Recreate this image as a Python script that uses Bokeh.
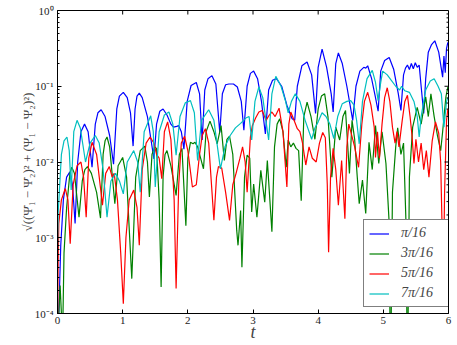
from bokeh.plotting import figure
from bokeh.models import FixedTicker, Legend, LegendItem
from bokeh.embed import file_html
from bokeh.resources import INLINE
import numpy as np

# ---- data (time t, and log10 of the difference norm) ----
t_pi16 = [0.00, 0.02, 0.05, 0.09, 0.14, 0.19, 0.23, 0.27, 0.31, 0.36, 0.415, 0.47, 0.53, 0.58, 0.62, 0.67,
          0.73, 0.80, 0.86, 0.91, 0.95, 1.01, 1.07, 1.12, 1.16, 1.19, 1.22, 1.255, 1.30, 1.38, 1.48, 1.52,
          1.57, 1.62, 1.68, 1.74, 1.78, 1.83, 1.86, 1.90, 1.94, 1.99, 2.05, 2.13, 2.18, 2.22, 2.26, 2.31,
          2.37, 2.43, 2.49, 2.53, 2.58, 2.63, 2.70, 2.76, 2.82, 2.86, 2.91, 2.96, 3.01, 3.07, 3.13, 3.19,
          3.24, 3.30, 3.36, 3.44, 3.52, 3.60, 3.64, 3.68, 3.75, 3.83, 3.90, 3.96, 4.00, 4.06, 4.13, 4.20,
          4.23, 4.27, 4.31, 4.37, 4.44, 4.50, 4.53, 4.58, 4.64, 4.70, 4.73, 4.76, 4.82, 4.88, 4.92, 4.96,
          5.02, 5.09, 5.16, 5.23, 5.27, 5.31, 5.34, 5.37, 5.40, 5.43, 5.46, 5.49, 5.52, 5.55, 5.58, 5.62,
          5.65, 5.69, 5.74, 5.79, 5.85, 5.91, 5.93, 5.95, 5.97, 5.99]
log_pi16 = [-4.6, -4.0, -3.1, -2.5, -2.2, -2.13, -2.3, -2.81, -2.0, -1.6, -1.50, -1.6, -2.07, -1.5, -1.35, -1.31,
            -1.4, -1.65, -2.03, -1.3, -1.13, -1.08, -1.15, -1.35, -1.79, -1.3, -1.13, -1.09, -1.15, -1.4, -1.96, -1.5,
            -1.33, -1.30, -1.38, -1.5, -1.54, -1.53, -1.52, -1.6, -1.83, -1.2, -0.99, -0.95, -1.1, -1.71, -1.05, -0.9,
            -0.86, -0.97, -1.61, -1.1, -0.98, -0.97, -0.97, -1.01, -1.2, -1.58, -1.0, -0.83, -0.80, -0.9, -1.2, -1.63,
            -1.05, -0.92, -0.90, -1.0, -1.25, -1.43, -1.45, -1.0, -0.73, -0.68, -0.85, -1.36, -0.75, -0.51, -0.75, -1.1,
            -1.34, -0.7, -0.56, -0.7, -1.0, -1.3, -1.45, -1.0, -0.8, -0.75, -0.76, -0.73, -0.9, -1.15, -1.33, -0.8,
            -0.66, -0.62, -0.78, -1.1, -1.32, -0.85, -0.76, -0.72, -0.78, -0.70, -0.77, -0.69, -0.75, -0.72, -1.0, -1.36,
            -0.9, -0.55, -0.45, -0.40, -0.55, -0.88, -0.6, -0.82, -0.5, -0.42]

t_3pi16 = [0.00, 0.02, 0.04, 0.06, 0.075, 0.10, 0.14, 0.19, 0.22, 0.26, 0.33, 0.38, 0.42, 0.46, 0.52, 0.60,
           0.66, 0.70, 0.73, 0.76, 0.80, 0.88, 0.93, 1.00, 1.06, 1.14, 1.20, 1.27, 1.34, 1.38, 1.41, 1.45,
           1.49, 1.52, 1.56, 1.59, 1.62, 1.65, 1.68, 1.74, 1.82, 1.87, 1.91, 1.97, 2.00, 2.04, 2.08, 2.11,
           2.15, 2.24, 2.28, 2.34, 2.40, 2.45, 2.51, 2.56, 2.60, 2.64, 2.69, 2.75, 2.77, 2.81, 2.83, 2.87,
           2.91, 2.95, 2.98, 3.01, 3.06, 3.12, 3.18, 3.22, 3.29, 3.33, 3.37, 3.41, 3.46, 3.51, 3.54, 3.58,
           3.62, 3.66, 3.70, 3.74, 3.78, 3.83, 3.89, 3.95, 4.00, 4.05, 4.10, 4.15, 4.21, 4.27, 4.33, 4.38,
           4.42, 4.48, 4.52, 4.56, 4.60, 4.63, 4.68, 4.73, 4.78, 4.83, 4.88, 4.93, 4.98, 5.04, 5.09, 5.11,
           5.14, 5.19, 5.22, 5.27, 5.31, 5.35, 5.37, 5.40, 5.45, 5.52, 5.58, 5.65, 5.69, 5.73, 5.78, 5.83,
           5.88, 5.91, 5.96, 5.99]
log_3pi16 = [-4.6, -4.0, -3.63, -4.0, -4.5, -3.2, -2.6, -2.15, -2.07, -2.15, -2.73, -2.25, -2.1, -2.06, -2.15, -2.4,
             -2.74, -1.9, -1.72, -1.67, -1.8, -2.55, -2.05, -1.94, -2.2, -3.54, -2.2, -1.85, -1.79, -2.0, -2.46, -1.9,
             -1.80, -1.82, -2.5, -3.65, -2.2, -1.9, -1.85, -2.05, -2.44, -1.9, -1.82, -2.84, -1.95, -1.74, -1.76, -1.74,
             -1.8, -2.09, -1.6, -1.46, -1.6, -1.76, -1.52, -1.98, -1.7, -1.66, -1.9, -2.90, -3.10, -2.64, -3.39, -2.2,
             -1.91, -1.95, -2.66, -2.29, -2.73, -2.11, -2.53, -1.98, -2.92, -1.8, -1.5, -1.43, -1.6, -2.07, -1.71, -1.8,
             -1.75, -1.82, -1.85, -2.51, -1.4, -1.21, -1.4, -1.7, -1.3, -1.13, -1.10, -1.4, -2.20, -1.54, -1.71, -1.4,
             -1.32, -2.15, -1.45, -1.7, -2.2, -2.55, -2.24, -2.68, -1.74, -2.1, -1.52, -2.02, -1.6, -2.02, -2.81, -5.0,
             -2.4, -1.80, -1.55, -1.9, -1.75, -2.86, -5.0, -2.2, -1.54, -1.28, -1.5, -1.14, -1.4, -1.10, -1.4, -1.65,
             -1.85, -1.6, -1.14, -1.01]

t_5pi16 = [0.00, 0.01, 0.02, 0.06, 0.12, 0.16, 0.195, 0.24, 0.30, 0.36, 0.40, 0.44, 0.48, 0.53, 0.60, 0.69,
           0.74, 0.795, 0.84, 0.87, 0.92, 0.97, 1.01, 1.05, 1.10, 1.17, 1.22, 1.255, 1.30, 1.36, 1.42, 1.48,
           1.52, 1.56, 1.60, 1.64, 1.69, 1.74, 1.79, 1.82, 1.86, 1.90, 1.95, 2.00, 2.07, 2.13, 2.18, 2.22,
           2.27, 2.32, 2.40, 2.44, 2.47, 2.52, 2.58, 2.64, 2.69, 2.74, 2.80, 2.84, 2.88, 2.91, 2.96, 2.99,
           3.04, 3.09, 3.14, 3.20, 3.25, 3.29, 3.34, 3.40, 3.46, 3.52, 3.55, 3.58, 3.63, 3.68, 3.72, 3.76,
           3.81, 3.86, 3.91, 3.97, 4.02, 4.07, 4.11, 4.14, 4.16, 4.19, 4.23, 4.27, 4.31, 4.36, 4.41, 4.44,
           4.47, 4.50, 4.56, 4.62, 4.67, 4.71, 4.76, 4.81, 4.86, 4.88, 4.91, 4.94, 4.98, 5.02, 5.06, 5.10,
           5.14, 5.18, 5.21, 5.24, 5.29, 5.33, 5.37, 5.41, 5.44, 5.47, 5.50, 5.54, 5.58, 5.62, 5.66, 5.70,
           5.75, 5.80, 5.85, 5.88, 5.90, 5.92, 5.94, 5.97, 5.99]
log_5pi16 = [-4.2, -3.3, -2.81, -2.5, -2.35, -2.5, -3.08, -2.3, -2.05, -2.00, -2.2, -2.73, -1.95, -1.74, -1.9, -2.57,
             -2.15, -2.06, -2.2, -2.15, -2.5, -3.2, -3.87, -3.0, -2.5, -2.37, -2.6, -3.10, -2.1, -1.75, -1.67, -1.75,
             -1.9, -1.95, -2.22, -1.6, -1.47, -1.7, -2.5, -3.67, -2.3, -1.75, -1.66, -1.85, -2.33, -2.3, -1.9, -1.65,
             -1.56, -1.75, -2.77, -2.2, -2.06, -2.08, -2.4, -2.77, -2.3, -2.15, -1.95, -1.80, -2.0, -2.40, -1.67, -1.52,
             -1.42, -1.34, -1.32, -1.45, -1.38, -1.34, -1.40, -1.29, -1.6, -2.33, -1.5, -1.34, -1.45, -1.56, -1.6, -1.75,
             -2.04, -1.8, -1.95, -2.0, -1.75, -1.61, -1.68, -2.3, -3.19, -2.2, -1.82, -2.1, -2.57, -1.98, -2.75, -1.8,
             -1.50, -1.6, -1.8, -2.07, -1.5, -1.2, -1.08, -1.25, -1.54, -1.94, -1.6, -1.95, -1.5, -1.15, -1.02, -1.2,
             -1.54, -1.75, -1.6, -1.8, -1.45, -1.2, -1.12, -1.4, -1.65, -2.02, -1.7, -2.0, -1.75, -2.1, -1.85, -2.20,
             -1.72, -1.47, -1.62, -2.0, -2.8, -3.69, -2.4, -1.45, -1.3]

t_7pi16 = [0.00, 0.01, 0.06, 0.10, 0.145, 0.18, 0.21, 0.25, 0.30, 0.35, 0.43, 0.50, 0.58, 0.64, 0.70, 0.76,
           0.82, 0.89, 0.95, 1.01, 1.07, 1.17, 1.23, 1.27, 1.33, 1.43, 1.47, 1.50, 1.56, 1.64, 1.71, 1.77,
           1.82, 1.88, 1.96, 2.04, 2.10, 2.15, 2.21, 2.32, 2.40, 2.50, 2.57, 2.65, 2.73, 2.81, 2.89, 2.94,
           2.98, 3.03, 3.09, 3.15, 3.24, 3.29, 3.35, 3.43, 3.50, 3.54, 3.59, 3.65, 3.72, 3.80, 3.90, 3.95,
           4.00, 4.06, 4.12, 4.18, 4.24, 4.30, 4.37, 4.44, 4.50, 4.55, 4.59, 4.63, 4.68, 4.75, 4.83, 4.88,
           4.92, 4.96, 4.99, 5.06, 5.12, 5.19, 5.25, 5.28, 5.33, 5.40, 5.47, 5.52, 5.55, 5.58, 5.65, 5.72,
           5.78, 5.84, 5.89, 5.93, 5.97, 5.99]
log_7pi16 = [-3.2, -2.68, -1.9, -1.72, -1.67, -1.85, -2.37, -1.6, -1.45, -1.55, -2.0, -1.75, -1.65, -1.75, -2.1, -2.73,
             -2.25, -2.15, -2.25, -2.42, -2.0, -1.85, -2.0, -2.40, -1.6, -1.39, -1.6, -2.33, -1.6, -1.38, -1.34, -1.5,
             -1.91, -1.4, -1.22, -1.19, -1.35, -1.98, -1.45, -1.31, -1.45, -2.09, -1.8, -1.65, -1.55, -1.49, -1.42, -1.40,
             -1.71, -1.2, -1.01, -1.15, -1.71, -1.1, -0.87, -1.0, -1.2, -1.35, -1.2, -1.10, -1.2, -1.45, -1.70, -1.55,
             -1.47, -1.35, -1.4, -1.5, -1.69, -1.4, -1.23, -1.2, -1.19, -1.25, -1.45, -1.76, -1.2, -0.9, -0.79, -0.95,
             -1.19, -0.95, -0.80, -0.85, -0.92, -1.0, -1.05, -1.0, -1.06, -1.08, -1.2, -1.4, -1.67, -1.4, -1.05, -0.93,
             -0.90, -1.0, -1.1, -1.54, -1.2, -1.15]

labels = ["\u03c0/16", "3\u03c0/16", "5\u03c0/16", "7\u03c0/16"]
colors = ["#0000ff", "#008000", "#ff0000", "#00bfbf"]
x_ticks = [0, 1, 2, 3, 4, 5, 6]
y_tick_exps = [-4, -3, -2, -1, 0]
y_tick_labels = ["10\u207b\u2074", "10\u207b\u00b3", "10\u207b\u00b2", "10\u207b\u00b9", "10\u2070"]

series = [(t_pi16, log_pi16), (t_3pi16, log_3pi16), (t_5pi16, log_5pi16), (t_7pi16, log_7pi16)]

SERIF = "Liberation Serif"

p = figure(frame_width=391, frame_height=303, x_range=(0, 6), y_range=(1e-4, 1), y_axis_type="log",
           output_backend="svg", toolbar_location=None,
           min_border_left=57, min_border_right=9, min_border_top=10, min_border_bottom=31)
p.background_fill_color = "white"
p.border_fill_color = "white"
p.outline_line_color = "black"
p.outline_line_width = 1
p.xgrid.visible = False
p.ygrid.visible = False

major_y = [10.0 ** e for e in y_tick_exps]
minor_y = [k * 10.0 ** e for e in y_tick_exps[:-1] for k in range(2, 10)]
yticker = FixedTicker(ticks=major_y, minor_ticks=minor_y)
xticker = FixedTicker(ticks=x_ticks, minor_ticks=[])

renderers = []
for (tt, ll), c in zip(series, colors):
    r = p.line(tt, 10.0 ** np.array(ll), line_color=c, line_width=1.2)
    renderers.append(r)

# inward ticks on the top and right edges (mirroring the bottom/left ticks)
x_max = x_ticks[-1]
y_max = major_y[-1]
p.ray(x=x_ticks, y=[y_max] * len(x_ticks), length=4, length_units="screen",
      angle=-np.pi / 2, line_color="black", line_width=1)
p.ray(x=[x_max] * len(major_y), y=major_y, length=4, length_units="screen",
      angle=np.pi, line_color="black", line_width=1)
p.ray(x=[x_max] * len(minor_y), y=minor_y, length=2, length_units="screen",
      angle=np.pi, line_color="black", line_width=1)

def style_axis(ax):
    ax.axis_line_color = "black"
    ax.major_tick_in = 4
    ax.major_tick_out = 0
    ax.minor_tick_in = 2
    ax.minor_tick_out = 0
    ax.major_tick_line_color = "black"
    ax.minor_tick_line_color = "black"
    ax.major_label_text_font = SERIF
    ax.major_label_text_font_size = "11px"
    ax.major_label_text_color = "#222222"

xa = p.xaxis[0]
xa.ticker = xticker
style_axis(xa)
xa.major_label_standoff = 3
xa.axis_label = "t"
xa.axis_label_text_font = SERIF
xa.axis_label_text_font_style = "italic"
xa.axis_label_text_font_size = "18px"
xa.axis_label_standoff = -5

ya = p.yaxis[0]
ya.ticker = yticker
style_axis(ya)
ya.major_label_standoff = 4
ya.major_label_overrides = {v: s for v, s in zip(major_y, y_tick_labels)}
ya.axis_label = "\u221a((\u03a8\u0307\u2081 \u2212 \u03a8\u0307\u2082)\u00b2 + (\u03a8\u2081 \u2212 \u03a8\u2082)\u00b2)"
ya.axis_label_text_font = SERIF
ya.axis_label_text_font_style = "normal"
ya.axis_label_text_font_size = "13px"
ya.axis_label_standoff = -3

legend = Legend(items=[LegendItem(label=l, renderers=[r]) for l, r in zip(labels, renderers)],
                location=(306, 6))
legend.label_text_font = SERIF
legend.label_text_font_size = "14px"
legend.label_text_font_style = "italic"
legend.border_line_color = "black"
legend.border_line_width = 1
legend.background_fill_alpha = 1
legend.padding = 5
legend.margin = 0
legend.spacing = 4
legend.glyph_width = 20
legend.glyph_height = 15
legend.label_height = 15
legend.label_width = 42
legend.label_standoff = 12
p.add_layout(legend, "center")

open("out.html", "w").write(file_html(p, INLINE))
